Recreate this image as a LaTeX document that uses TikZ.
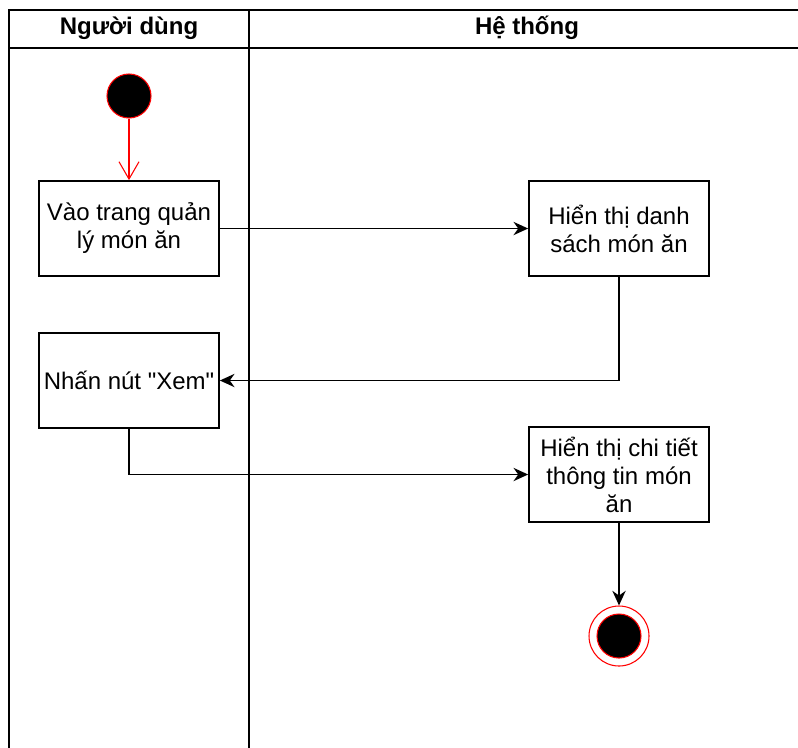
\documentclass[tikz,border=0pt]{standalone}
\usepackage{fontspec}
\setmainfont{Liberation Sans}[Ligatures=TeXOff]
\usetikzlibrary{arrows.meta}

\begin{document}
\begin{tikzpicture}[x=0.75pt,y=-0.75pt]
% Styles
\tikzstyle{couloir}=[line width=1.3pt]
\tikzstyle{titre}=[font=\bfseries\fontsize{18}{21}\selectfont]
\tikzstyle{action}=[draw,line width=1.3pt,minimum width=\Lrg*0.75pt,minimum height=\Htr*0.75pt,inner sep=0pt,align=center,font=\fontsize{18}{21}\selectfont]
\tikzstyle{lien}=[-{Stealth[length=11pt,width=10pt]},line width=1.2pt]
\tikzstyle{debut}=[circle,fill=black,draw=red,line width=0.8pt,minimum size=33pt,inner sep=0pt]
\tikzstyle{fin}=[circle,draw=red,line width=0.8pt,minimum size=45pt,inner sep=0pt]
% Dimensions
\def\Lrg{180}
\def\Htr{95}
\def\gauche{9}
\def\separateur{249}
\def\haut{10}
\def\entete{48}
% Cadre
\clip (0,0) rectangle (798,747);
\draw[couloir] (820,\haut) -- (\gauche,\haut) -- (\gauche,760);
\draw[couloir] (\gauche,\entete) -- (820,\entete);
\draw[couloir] (\separateur,\haut) -- (\separateur,760);
\node[titre] (usr) at (129,28) {Người dùng};
\node[titre] (sys) at (527,28) {Hệ thống};
% Noeuds
\node[debut] (dep) at (129,96) {};
\node[action] (vao) at (129,228.5) {Vào trang quản\\lý món ăn};
\node[action] (dsach) at (619,228.5) {Hiển thị danh\\sách món ăn};
\node[action] (xem) at (129,380.5) {Nhấn nút "Xem"};
\node[action] (ctiet) at (619,474.5) {Hiển thị chi tiết\\thông tin món\\ăn};
\node[fin] (arr) at (619,636) {};
\node[debut] (arrin) at (619,636) {};
% Liens
\draw[-{Straight Barb[length=13pt,width=15pt]},red,line width=0.8pt] (dep) -- (vao);
\draw[lien] (vao) -- (dsach);
\draw[lien] (dsach.south) |- (xem.east);
\draw[lien] (xem.south) |- (ctiet.west);
\draw[lien] (ctiet) -- (arr);
\end{tikzpicture}
\end{document}
